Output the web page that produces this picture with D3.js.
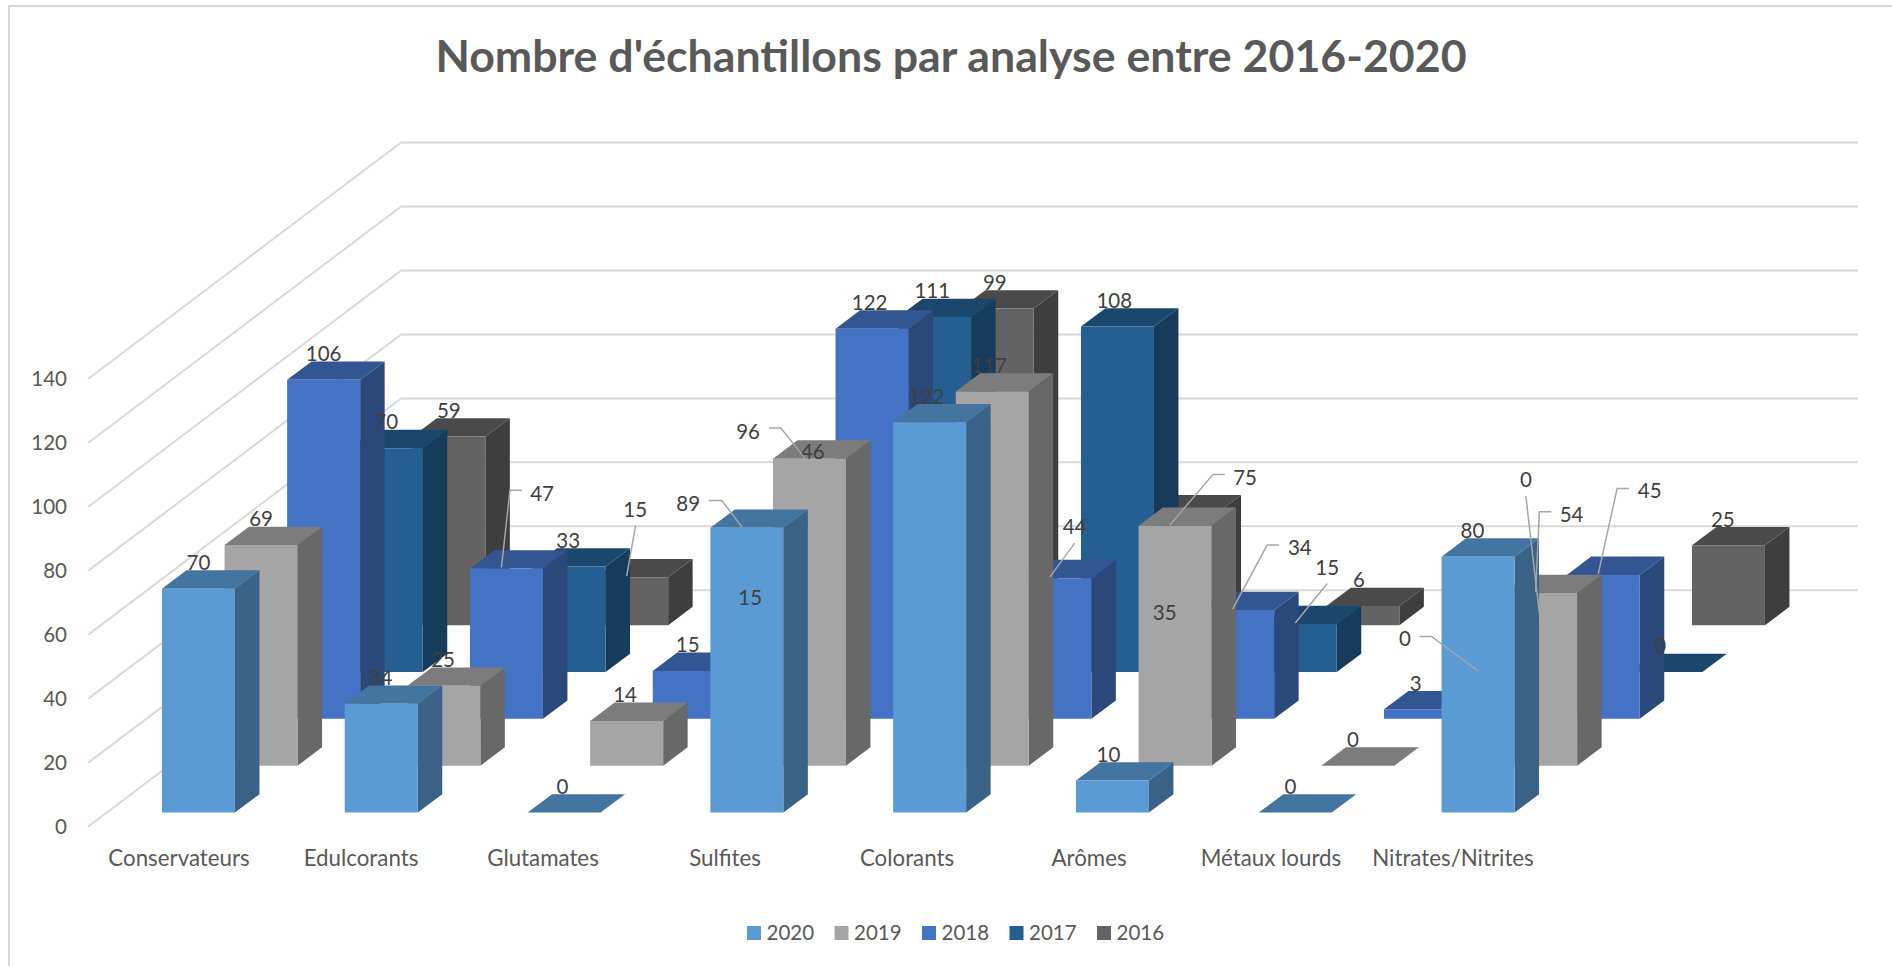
<!DOCTYPE html>
<html>
<head>
<meta charset="utf-8">
<script src="https://d3js.org/d3.v7.min.js"></script>
<style>
  html, body { margin: 0; padding: 0; background: #fff; overflow: hidden; }
  svg { display: block; font-family: Lato, "Open Sans", sans-serif; }
</style>
</head>
<body>
<svg id="chart"></svg>
<script>
const width = 1892, height = 966;

// Data
const categories = ["Conservateurs", "Edulcorants", "Glutamates", "Sulfites", "Colorants", "Arômes", "Métaux lourds", "Nitrates/Nitrites"];
const years = ["2020", "2019", "2018", "2017", "2016"];
const values2020 = [70, 34, 0, 89, 122, 10, 0, 80];
const values2019 = [69, 25, 14, 96, 117, 75, 0, 54];
const values2018 = [106, 47, 15, 122, 44, 34, 3, 45];
const values2017 = [70, 33, 15, 111, 108, 15, 0, 0];
const values2016 = [59, 15, 46, 99, 35, 6, 0, 25];
const yearValues = [values2020, values2019, values2018, values2017, values2016];
const yearColors = ["#5B9BD5", "#A5A5A5", "#4472C4", "#255E91", "#636363"];
const yTicks = [0, 20, 40, 60, 80, 100, 120, 140];

// Labels that were dragged away from their bar in the original, [year, category, dx, dy, elbow]
const movedLabels = [
  ["2018", "Edulcorants", 35.6, -49.3, [[15.5, -51], [3.5, -51]]],
  ["2016", "Edulcorants", 3.5, -41.8, [[3.9, -24]]],
  ["2020", "Sulfites", -58.6, 1.4, [[-38, 0], [-25, 0]]],
  ["2019", "Sulfites", -61.4, -1.3, [[-40.5, -3.2], [-28.6, -3.2]]],
  ["2018", "Colorants", 19.8, -25.9, [[19.8, -7.7]]],
  ["2016", "Colorants", -15.4, 125.6, null],
  ["2019", "Arômes", 70, -22.2, [[49.8, -24.1], [38, -24.1]]],
  ["2018", "Arômes", 62.2, -36, [[41.4, -37.7], [29.5, -37.7]]],
  ["2017", "Arômes", 27, -30.6, [[27, -13.3]]],
  ["2017", "Métaux lourds", -78.1, -6.9, [[-63.5, -8.3], [-51.6, -8.3]]],
  ["2016", "Métaux lourds", -19.8, -119.4, [[-19.8, -101.7]]],
  ["2019", "Nitrates/Nitrites", 30.9, -52.3, [[10.6, -53.9], [-1.3, -53.9]]],
  ["2018", "Nitrates/Nitrites", 46.4, -58.2, [[25.8, -59.2], [13.9, -59.2]]]
];

// Plot box: front left corner of the floor and how far the depth axis shifts things
const frontX = 88, depthX = 313, depthY = 234.2, wallRise = 236.5, wallEnd = 1858;
const barWidth = 73, barDepth = 24.5 / 313;

const svg = d3.select("#chart").attr("width", width).attr("height", height);

const x = d3.scaleBand().domain(categories).range([frontX, frontX + 1462.4]);
const xLabels = d3.scaleBand().domain(categories).range([frontX, frontX + 1456]);
const y = d3.scaleLinear().domain([0, 140]).range([826.8, 379]);
const depth = d3.scaleBand().domain(years).range([0, 1]);

// oblique projection: d goes 0 (front) to 1 (back)
function project(px, d, v) {
  return [px + d * depthX, y(v) - d * depthY];
}

function shade(color, k) {
  const c = d3.rgb(color);
  return d3.rgb(c.r * k, c.g * k, c.b * k).formatHex();
}

// Frame (only left and top edges fall inside the picture)
svg.append("rect").attr("x", 9).attr("y", 6).attr("width", width).attr("height", height)
  .attr("fill", "none").attr("stroke", "#D9D9D9").attr("stroke-width", 2);

// Gridlines
svg.append("g").selectAll("path").data(yTicks).enter().append("path")
  .attr("fill", "none").attr("stroke", "#D9D9D9").attr("stroke-width", 2)
  .attr("d", v => d3.line()([[frontX, y(v)], [frontX + depthX, y(v) - wallRise], [wallEnd, y(v) - wallRise]]));

// Axes
const yAxis = svg.append("g").attr("transform", `translate(${frontX},0)`)
  .call(d3.axisLeft(y).tickValues(yTicks).tickSize(0).tickPadding(21));
yAxis.selectAll("text").attr("font-size", 20.5);
const xAxis = svg.append("g").attr("transform", "translate(0,847)")
  .call(d3.axisBottom(xLabels).tickSize(0).tickPadding(3));
xAxis.selectAll("text").attr("font-size", 22.3);
[yAxis, xAxis].forEach(a => {
  a.select(".domain").remove();
  a.selectAll("text").attr("font-family", "Lato").attr("fill", "#595959");
});

// Bars, back row first so the front rows cover them
const bars = [];
years.forEach((year, r) => {
  categories.forEach((cat, i) => {
    bars.push({ year, cat, i, r, value: yearValues[r][i], color: yearColors[r] });
  });
});
bars.sort((a, b) => b.r - a.r || a.i - b.i);

const barGroup = svg.append("g").selectAll("g").data(bars).enter().append("g");

function facePoints(d) {
  const left = x(d.cat) + (x.bandwidth() - barWidth) / 2;
  const right = left + barWidth;
  const d0 = depth(d.year) + (depth.bandwidth() - barDepth) / 2;
  const d1 = d0 + barDepth;
  return {
    front: [project(left, d0, 0), project(right, d0, 0), project(right, d0, d.value), project(left, d0, d.value)],
    top: [project(left, d0, d.value), project(right, d0, d.value), project(right, d1, d.value), project(left, d1, d.value)],
    side: [project(right, d0, 0), project(right, d1, 0), project(right, d1, d.value), project(right, d0, d.value)]
  };
}
const polyPath = pts => "M" + pts.map(p => p.join(",")).join("L") + "Z";

barGroup.append("path").attr("d", d => polyPath(facePoints(d).side)).attr("fill", d => shade(d.color, 0.63));
barGroup.append("path").attr("d", d => polyPath(facePoints(d).top)).attr("fill", d => shade(d.color, 0.75));
barGroup.append("path").attr("d", d => polyPath(facePoints(d).front)).attr("fill", d => d.color);

// Data labels: x over the middle of the front face, y just above the back edge of the top
function labelAnchor(d) {
  const f = facePoints(d);
  return [(f.top[0][0] + f.top[1][0]) / 2, f.top[2][1] - 9];
}
const labelLayer = svg.append("g");
bars.forEach(d => {
  const a = labelAnchor(d);
  const moved = movedLabels.find(m => m[0] === d.year && m[1] === d.cat);
  let lx = a[0] - d.i * 0.8, ly = a[1];
  if (moved) {
    lx = a[0] + moved[2];
    ly = a[1] + moved[3];
    if (moved[4]) {
      const pts = moved[4].map(p => [a[0] + p[0], a[1] + p[1]]);
      pts.push([a[0] - 5, a[1] + 26.3]);
      labelLayer.append("path").attr("d", d3.line()(pts))
        .attr("fill", "none").attr("stroke", "#A6A6A6").attr("stroke-width", 1.5);
    }
  }
  labelLayer.append("text").attr("x", lx).attr("y", ly + 1.5).attr("dy", "0.35em")
    .attr("text-anchor", "middle").attr("font-size", 20.5).attr("fill", "#404040")
    .text(d.value);
});

// Title
svg.append("text").attr("x", 951).attr("y", 56.5).attr("dy", "0.35em").attr("text-anchor", "middle")
  .attr("font-size", 44.7).attr("font-weight", "bold").attr("fill", "#595959")
  .text("Nombre d'échantillons par analyse entre 2016-2020");

// Legend
const legendX = d3.scaleBand().domain(years).range([747, 1184.5]);
const legend = svg.append("g").selectAll("g").data(years).enter().append("g")
  .attr("transform", d => `translate(${legendX(d)},926)`);
legend.append("rect").attr("width", 14).attr("height", 14).attr("fill", (d, i) => yearColors[i]);
legend.append("text").attr("x", 19.5).attr("y", 7).attr("dy", "0.35em")
  .attr("font-size", 20.5).attr("fill", "#595959").text(d => d);
</script>
</body>
</html>
